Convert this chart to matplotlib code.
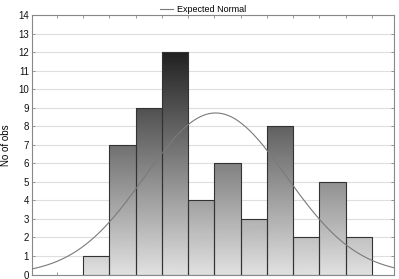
import numpy as np
import matplotlib
matplotlib.use("Agg")
import matplotlib.pyplot as plt

bin_edges = [1, 2, 3, 4, 5, 6, 7, 8, 9, 10, 11, 12]
counts = [1, 7, 9, 12, 4, 6, 3, 8, 2, 5, 2]
normal_mean = 6.05
normal_sd = 2.7
y_ticks = list(range(0, 15))
x_ticks = list(range(0, 13))

plt.rcParams['font.family'] = ['Liberation Sans', 'DejaVu Sans']
fig = plt.figure(figsize=(3.99, 2.79), dpi=100)
ax = fig.add_axes([0.080, 0.0160, 0.907, 0.930])

xmin, xmax = -0.95, 12.84
ymin, ymax = 0, 14
ax.set_xlim(xmin, xmax)
ax.set_ylim(ymin, ymax)

ax.yaxis.grid(True, color='#dedede', linewidth=0.8)
ax.set_axisbelow(True)

lefts = np.array(bin_edges[:-1])
widths = np.diff(bin_edges)
bars = ax.bar(lefts, counts, width=widths, align='edge', facecolor='none',
              edgecolor='#333333', linewidth=0.8, zorder=3)

# vertical gradient by absolute y: light at bottom, dark at top
g0, g12 = 0.88, 0.13
grad_full = np.linspace(g0, g0 - (g0 - g12) / 12 * 14, 256)
img_data = np.clip(grad_full, 0, 1).reshape(-1, 1)
for b in bars:
    im = ax.imshow(img_data, extent=[xmin, xmax, ymin, ymax], origin='lower',
                   cmap='gray', vmin=0, vmax=1, aspect='auto', zorder=2,
                   interpolation='bilinear')
    im.set_clip_path(b)

xs = np.linspace(xmin, xmax, 400)
N = sum(counts)
w = 1.0
ys = N * w / (normal_sd * np.sqrt(2 * np.pi)) * np.exp(-0.5 * ((xs - normal_mean) / normal_sd) ** 2)
line, = ax.plot(xs, ys, color='#7a7a7a', linewidth=0.8, zorder=4, label='Expected Normal')

ax.set_xticks(x_ticks)
ax.set_xticklabels([])
ax.set_yticks(y_ticks)
ax.tick_params(axis='both', direction='in', length=2.5, width=0.6, color='#888888',
               top=True, right=True, labelsize=7, pad=2)
ax.tick_params(axis='y', labelcolor='#111111')
for s in ax.spines.values():
    s.set_color('#888888')
    s.set_linewidth(0.8)

ax.set_ylabel('No of obs', fontsize=7, labelpad=5)

fig.legend(handles=[line], loc='upper center', bbox_to_anchor=(0.509, 1.012),
           frameon=False, fontsize=6.5, handlelength=1.5, handletextpad=0.4)

fig.savefig('out.png', dpi=100)
